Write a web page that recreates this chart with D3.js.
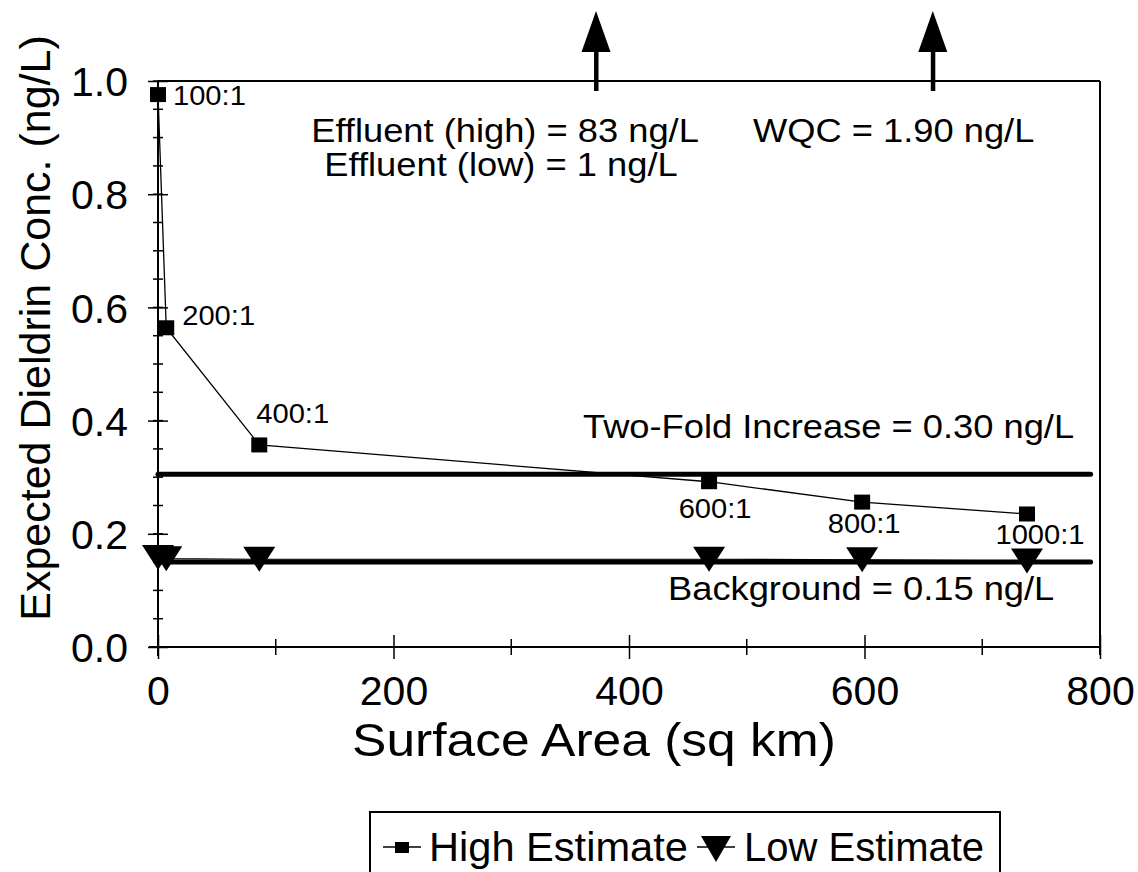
<!DOCTYPE html>
<html>
<head>
<meta charset="utf-8">
<script src="https://cdn.jsdelivr.net/npm/d3@7"></script>
<style>
  html, body { margin: 0; padding: 0; background: #fff; }
  svg { display: block; font-family: "Liberation Sans", Arial, Helvetica, sans-serif; }
</style>
</head>
<body>
<svg id="chart" width="1138" height="872"></svg>
<script>
// ---- data ----
const ratioLabels = ["100:1", "200:1", "400:1", "600:1", "800:1", "1000:1"];
const surfaceArea = [0, 7, 86, 468, 598, 738];           // sq km
const highEstimate = [0.976, 0.564, 0.357, 0.292, 0.256, 0.235]; // ng/L
const lowEstimate  = [0.158, 0.156, 0.155, 0.155, 0.154, 0.152]; // ng/L
const xTicks = [0, 200, 400, 600, 800];
const xMinorTicks = [100, 300, 500, 700];
const yTicks = [0.0, 0.2, 0.4, 0.6, 0.8, 1.0];
const yMinorTicks = d3.range(0, 1.0001, 0.05);
const twoFold = 0.305;      // "Two-Fold Increase = 0.30 ng/L"
const background = 0.15;    // "Background = 0.15 ng/L"
const arrowX = [372, 658];  // off-scale arrows (Effluent high, WQC)
const refLineEnd = 792;

(function () {
// ---- layout ----
const svg = d3.select("#chart");
const pL = 158, pR = 1100, pT = 81, pB = 647;
const x = d3.scaleLinear().domain([0, 800]).range([pL, pR]);
const y = d3.scaleLinear().domain([0, 1]).range([pB, pT]);

// horizontally stretched text helper (reference lettering is slightly wide)
function stext(parent, tx, ty, str, size, anchor, sx) {
  return parent.append("text")
    .attr("transform", `translate(${tx},${ty}) scale(${sx},1)`)
    .attr("text-anchor", anchor).attr("font-size", size).attr("fill", "#000").text(str);
}

// frame (top and right)
svg.append("line").attr("x1", pL).attr("x2", pR).attr("y1", pT).attr("y2", pT)
  .attr("stroke", "#000").attr("stroke-width", 2);
svg.append("line").attr("x1", pR).attr("x2", pR).attr("y1", pT).attr("y2", pB + 8)
  .attr("stroke", "#000").attr("stroke-width", 2);

// y axis
const yAxis = svg.append("g").attr("transform", `translate(${pL},0)`)
  .call(d3.axisLeft(y).tickValues(yTicks).tickFormat(d3.format(".1f")).tickSize(10).tickPadding(20));
yAxis.select(".domain").attr("stroke-width", 2).attr("d", `M0,${pT}V${pB + 9}`);
yAxis.selectAll(".tick line").attr("x2", -10).attr("x1", 10).attr("stroke-width", 1.5);
yAxis.selectAll(".tick text").attr("font-size", 41).attr("font-family", "Liberation Sans, Arial, sans-serif")
  .attr("fill", "#000").attr("dy", "0.36em");
svg.append("g").selectAll("line").data(yMinorTicks).join("line")
  .attr("x1", pL - 5).attr("x2", pL + 5)
  .attr("y1", d => y(d)).attr("y2", d => y(d))
  .attr("stroke", "#000").attr("stroke-width", 1.5);

// x axis
const xAxis = svg.append("g").attr("transform", `translate(0,${pB})`)
  .call(d3.axisBottom(x).tickValues(xTicks).tickFormat(d3.format("d")).tickSize(12).tickPadding(17));
xAxis.select(".domain").attr("stroke-width", 2).attr("d", `M${pL - 9},0H${pR}`);
xAxis.selectAll(".tick line").attr("y1", -12).attr("y2", 12).attr("stroke-width", 1.5);
xAxis.selectAll(".tick text").attr("font-size", 41).attr("font-family", "Liberation Sans, Arial, sans-serif")
  .attr("fill", "#000");
svg.append("g").selectAll("line").data(xMinorTicks).join("line")
  .attr("x1", d => x(d)).attr("x2", d => x(d))
  .attr("y1", pB - 8).attr("y2", pB + 8)
  .attr("stroke", "#000").attr("stroke-width", 1.5);

// axis titles
stext(svg, 594, 756, "Surface Area (sq km)", 46, "middle", 1.12);
svg.append("text").attr("transform", `translate(50,${(pT + pB) / 2 - 36}) rotate(-90)`)
  .attr("text-anchor", "middle").attr("font-size", 43).text("Expected Dieldrin Conc. (ng/L)");

// reference lines
[twoFold, background].forEach(v => {
  svg.append("line").attr("x1", x(0)).attr("x2", x(refLineEnd))
    .attr("y1", y(v)).attr("y2", y(v))
    .attr("stroke", "#000").attr("stroke-width", 5).attr("stroke-linecap", "round");
});

// series lines
const pts = (ys) => surfaceArea.map((a, i) => [a, ys[i]]);
const lineGen = d3.line().x(d => x(d[0])).y(d => y(d[1]));
svg.append("path").attr("d", lineGen(pts(lowEstimate))).attr("fill", "none")
  .attr("stroke", "#000").attr("stroke-width", 1.2);
svg.append("path").attr("d", lineGen(pts(highEstimate))).attr("fill", "none")
  .attr("stroke", "#000").attr("stroke-width", 1.3);

// markers
const triPath = (w, h) => `M${-w / 2},${-h / 2}L${w / 2},${-h / 2}L0,${h / 2}Z`;
svg.append("g").selectAll("path").data(pts(lowEstimate)).join("path")
  .attr("transform", d => `translate(${x(d[0])},${y(d[1])})`)
  .attr("d", triPath(32, 25)).attr("fill", "#000");
svg.append("g").selectAll("rect").data(pts(highEstimate)).join("rect")
  .attr("x", d => x(d[0]) - 8).attr("y", d => y(d[1]) - 7.5)
  .attr("width", 16).attr("height", 15).attr("fill", "#000");

// ratio labels
const labelOffsets = [
  { dx: 15, dy: 0, anchor: "start" },
  { dx: 16, dy: -13, anchor: "start" },
  { dx: -3, dy: -32, anchor: "start" },
  { dx: 6, dy: 26, anchor: "middle" },
  { dx: 2, dy: 21, anchor: "middle" },
  { dx: 13, dy: 20, anchor: "middle" }
];
svg.append("g").selectAll("text").data(ratioLabels).join("text")
  .attr("transform", (d, i) =>
    `translate(${x(surfaceArea[i]) + labelOffsets[i].dx},${y(highEstimate[i]) + labelOffsets[i].dy}) scale(1.04,1)`)
  .attr("dy", "0.36em")
  .attr("text-anchor", (d, i) => labelOffsets[i].anchor)
  .attr("font-size", 28).text(d => d);

// arrows above plot
arrowX.forEach(a => {
  const ax = x(a);
  svg.append("rect").attr("x", ax - 2).attr("y", 50).attr("width", 4.5).attr("height", pT + 10 - 50).attr("fill", "#000");
  svg.append("path").attr("d", `M${ax},11L${ax + 14.5},52L${ax - 14.5},52Z`).attr("fill", "#000");
});

// annotations
const annoSize = 33, annoSx = 1.1;
stext(svg, 505, 142, "Effluent (high) = 83 ng/L", annoSize, "middle", annoSx);
stext(svg, 501, 176, "Effluent (low) = 1 ng/L", annoSize, "middle", annoSx);
stext(svg, 753, 142, "WQC = 1.90 ng/L", annoSize, "start", annoSx);
stext(svg, 583, y(twoFold) - 36, "Two-Fold Increase = 0.30 ng/L", annoSize, "start", annoSx);
stext(svg, 668, y(background) + 38, "Background = 0.15 ng/L", annoSize, "start", annoSx);

// legend
const lg = svg.append("g");
lg.append("rect").attr("x", 370).attr("y", 812).attr("width", 630).attr("height", 80)
  .attr("fill", "none").attr("stroke", "#000").attr("stroke-width", 2);
lg.append("line").attr("x1", 383).attr("x2", 421).attr("y1", 847).attr("y2", 847).attr("stroke", "#000").attr("stroke-width", 1.5);
lg.append("rect").attr("x", 395).attr("y", 842).attr("width", 14).attr("height", 11).attr("fill", "#000");
stext(lg, 429, 861, "High Estimate", 40, "start", 1.04);
lg.append("line").attr("x1", 697).attr("x2", 735).attr("y1", 847).attr("y2", 847).attr("stroke", "#000").attr("stroke-width", 1.5);
lg.append("path").attr("transform", "translate(716,849)").attr("d", triPath(30, 26)).attr("fill", "#000");
stext(lg, 744, 861, "Low Estimate", 40, "start", 1.0);
})();
</script>
</body>
</html>
